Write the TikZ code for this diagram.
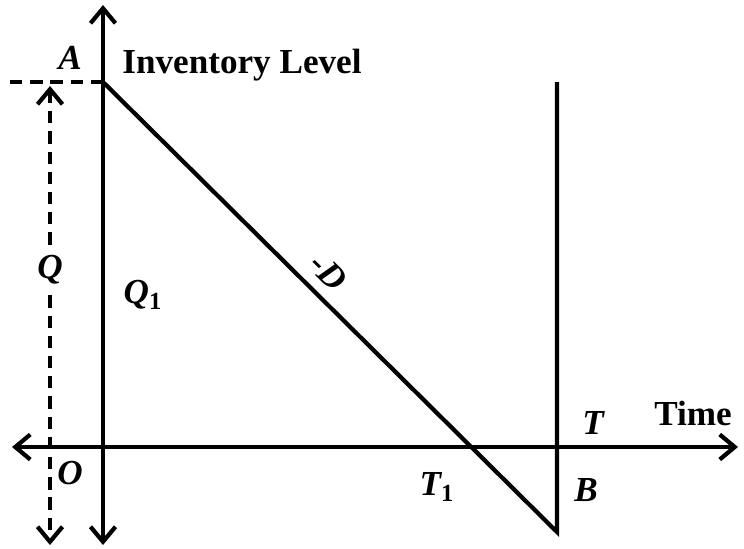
\documentclass[tikz,border=0pt]{standalone}
\usepackage{fontspec}
\setmainfont{Liberation Serif}
\usetikzlibrary{positioning,arrows.meta}

\begin{document}
\begin{tikzpicture}[
    x=0.02cm, y=-0.02cm, line width=2.4pt, >={Straight Barb[length=3mm, width=5mm]},
    lbl/.style={font=\bfseries\itshape\fontsize{20}{24}\selectfont, inner sep=1pt},
    txt/.style={font=\bfseries\fontsize{20}{24}\selectfont, inner sep=1pt},
    dsh/.style={dash pattern=on 7pt off 4.5pt}]
  \useasboundingbox (0,0) rectangle (744,548);
  % axes
  \coordinate (ytop) at (103,5);
  \coordinate (ybot) at (103,545);
  \coordinate (xl) at (12,447);
  \coordinate (xr) at (738,447);
  \draw[<->] (ybot) -- (ytop);
  \draw[<->] (xl) -- (xr);
  % inventory line
  \coordinate (A) at (103,82);
  \coordinate (B) at (557,532);
  \coordinate (T) at (557,82);
  \draw (A) -- node[lbl, sloped, above=5pt, pos=0.46] {-D} (B) -- (T);
  % level Q
  \coordinate (dl) at (10,82);
  \coordinate (qt) at (50,86);
  \coordinate (qb) at (50,545);
  \draw[dsh] (dl) -- (A);
  \node[lbl, fill=white, inner sep=5pt] (q) at (50,270) {Q};
  \draw[dsh, ->] (q) -- (qt);
  \draw[dsh, ->] (q) -- (qb);
  % labels
  \node[lbl] (la) at (70,58) {A};
  \node[lbl] (lo) at (70,473) {O};
  \node[txt] (inv) at (242,65) {Inventory Level};
  \node[lbl] (q1) at (143,295) {Q\textsubscript{\upshape 1}};
  \node[lbl] (t1) at (437,487) {T\textsubscript{\upshape 1}};
  \node[lbl] (lt) at (593,423) {T};
  \node[lbl] (lb) at (586,490) {B};
  \node[txt] (time) at (693,413) {Time};
\end{tikzpicture}
\end{document}
